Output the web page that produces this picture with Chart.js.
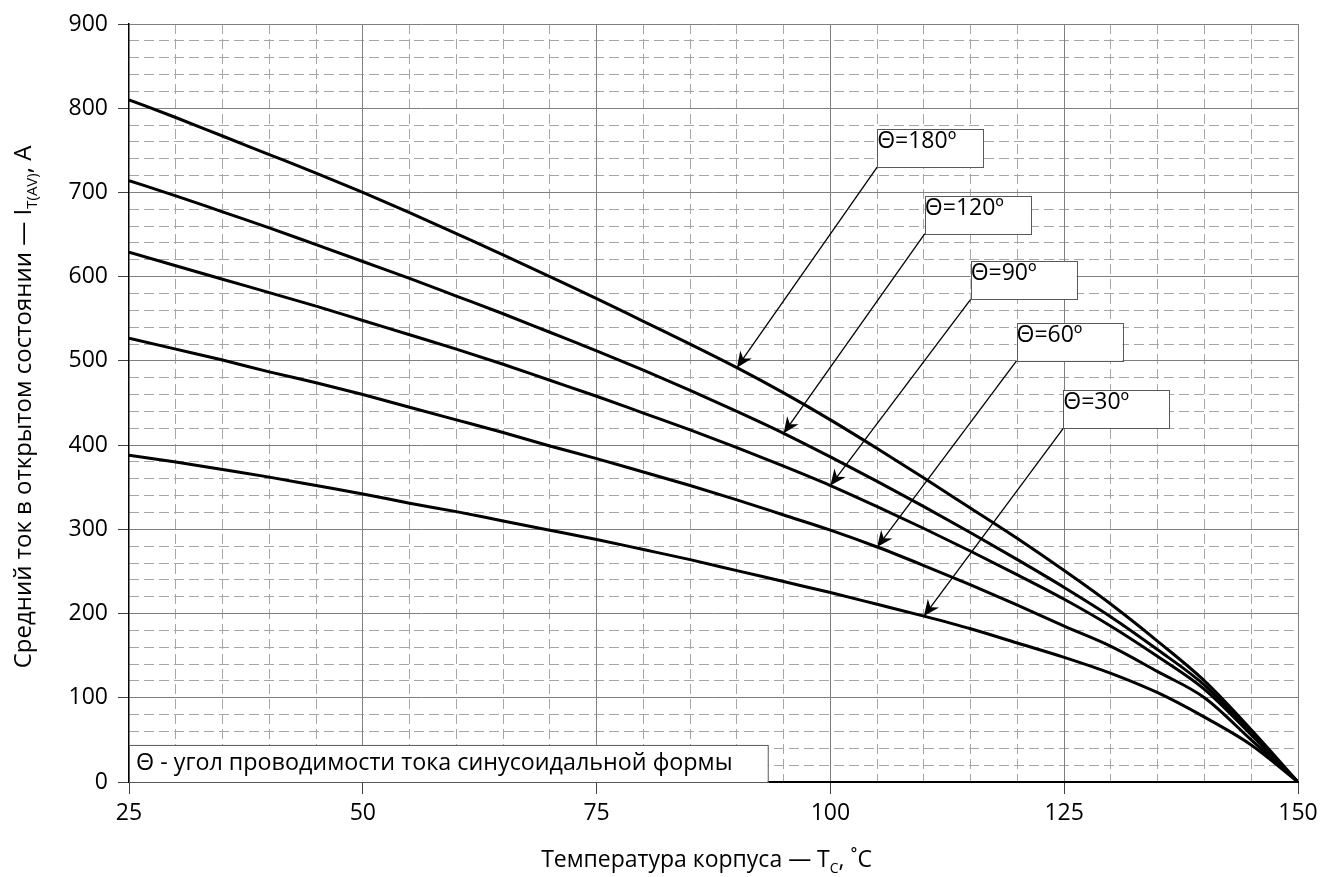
<!DOCTYPE html>
<html>
<head>
<meta charset="utf-8">
<script src="https://cdn.jsdelivr.net/npm/chart.js@4.4.1/dist/chart.umd.min.js"></script>
<style>
html, body { margin: 0; padding: 0; background: #fff; }
#wrap { width: 1333px; height: 877px; }
</style>
</head>
<body>
<div id="wrap"><canvas id="currentChart" width="1333" height="877"></canvas></div>
<script>
// case temperature, degC
var temps = [25, 30, 35, 40, 45, 50, 55, 60, 65, 70, 75, 80, 85, 90, 95, 100, 105, 110, 115, 120, 125, 130, 135, 140, 145, 150];

// average on-state current, A
var cur180 = [810, 789, 767, 745, 723, 700, 676, 651, 626, 600, 574, 547, 520, 492, 462, 430, 396, 361, 325, 289, 251, 211, 167, 120, 62, 0];
var cur120 = [714, 696, 677, 658, 638, 618, 598, 577, 556, 534, 512, 489, 465, 440, 414, 386, 357, 327, 296, 264, 231, 196, 157, 115, 58, 0];
var cur90  = [629, 613, 597, 581, 565, 548, 531, 514, 496, 477, 458, 438, 418, 397, 375, 352, 327, 301, 274, 246, 217, 185, 149, 110, 56, 0];
var cur60  = [527, 514, 501, 487, 474, 460, 445, 430, 415, 399, 384, 368, 352, 335, 317, 299, 279, 257, 234, 210, 185, 161, 131, 100, 50, 0];
var cur30  = [388, 380, 371, 362, 352, 342, 331, 321, 310, 299, 288, 276, 264, 251, 238, 225, 211, 197, 182, 165, 148, 129, 106, 77, 44, 0];

var seriesNames = ['Θ=180º', 'Θ=120º', 'Θ=90º', 'Θ=60º', 'Θ=30º'];
var seriesData = [cur180, cur120, cur90, cur60, cur30];

var xTicks = [25, 50, 75, 100, 125, 150];
var yTicks = [0, 100, 200, 300, 400, 500, 600, 700, 800, 900];

var noteText = 'Θ - угол проводимости тока синусоидальной формы';

// callout boxes: bottom-left corner in data units, arrow goes to point index on the curve
var calloutX = [105, 110.1, 115, 119.9, 124.9];
var calloutY = [730, 651, 573, 500, 420];
var calloutTip = [13, 14, 15, 16, 17];

var FONT = "'Open Sans', 'DejaVu Sans', sans-serif";

function makePoints(arr) {
	var pts = [];
	for (var i = 0; i < temps.length; i++) {
		pts.push({ x: temps[i], y: arr[i] });
	}
	return pts;
}

var datasets = [];
for (var i = 0; i < seriesData.length; i++) {
	datasets.push({
		label: seriesNames[i],
		data: makePoints(seriesData[i]),
		borderColor: '#000',
		borderWidth: 3,
		pointRadius: 0,
		fill: false,
		cubicInterpolationMode: 'monotone',
		xAxisID: 'x',
		yAxisID: 'y'
	});
}

function drawParts(ctx, parts, size, cx, baseY) {
	var subSize = Math.round(size * 0.62);
	var total = 0;
	parts.forEach(function(p) {
		ctx.font = (p[1] ? subSize : size) + 'px ' + FONT;
		p.w = ctx.measureText(p[0]).width;
		total += p.w;
	});
	var x = cx - total / 2;
	parts.forEach(function(p) {
		ctx.font = (p[1] ? subSize : size) + 'px ' + FONT;
		ctx.fillText(p[0], x, baseY + (p[1] ? 6 : 0));
		x += p.w;
	});
}

function drawArrow(ctx, x1, y1, x2, y2) {
	var ang = Math.atan2(y2 - y1, x2 - x1);
	var len = 16, half = 7;
	ctx.beginPath();
	ctx.moveTo(x1, y1);
	ctx.lineTo(x2 - Math.cos(ang) * 10, y2 - Math.sin(ang) * 10);
	ctx.stroke();
	var bx = x2 - Math.cos(ang) * len, by = y2 - Math.sin(ang) * len;
	var nx = -Math.sin(ang), ny = Math.cos(ang);
	ctx.beginPath();
	ctx.moveTo(x2, y2);
	ctx.lineTo(bx + nx * half, by + ny * half);
	ctx.lineTo(x2 - Math.cos(ang) * 11, y2 - Math.sin(ang) * 11);
	ctx.lineTo(bx - nx * half, by - ny * half);
	ctx.closePath();
	ctx.fill();
}

var notesPlugin = {
	id: 'notes',
	afterDatasetsDraw: function(chart) {
		var ctx = chart.ctx;
		var xs = chart.scales.x, ys = chart.scales.y;
		ctx.save();

		// note box at bottom-left
		var nl = xs.getPixelForValue(25), nr = xs.getPixelForValue(93.3);
		var nt = ys.getPixelForValue(44), nb = ys.getPixelForValue(0);
		ctx.fillStyle = '#fff';
		ctx.fillRect(nl, nt, nr - nl, nb - nt);
		ctx.strokeStyle = '#595959';
		ctx.lineWidth = 1;
		ctx.strokeRect(nl + 0.5, nt + 0.5, nr - nl, nb - nt);
		ctx.fillStyle = '#000';
		ctx.font = '23.3px ' + FONT;
		ctx.textBaseline = 'alphabetic';
		ctx.fillText(noteText, nl + 7, nt + 25);

		// callouts
		for (var i = 0; i < seriesNames.length; i++) {
			var bl = xs.getPixelForValue(calloutX[i]);
			var bb = ys.getPixelForValue(calloutY[i]);
			var w = 106, h = 38;
			var pt = chart.getDatasetMeta(i).data[calloutTip[i]];
			ctx.strokeStyle = '#000';
			ctx.fillStyle = '#000';
			ctx.lineWidth = 1.3;
			drawArrow(ctx, bl, bb, pt.x, pt.y);
			ctx.fillStyle = '#fff';
			ctx.fillRect(bl, bb - h, w, h);
			ctx.strokeStyle = '#595959';
			ctx.lineWidth = 1;
			ctx.strokeRect(Math.round(bl) + 0.5, Math.round(bb - h) + 0.5, w, h);
			ctx.fillStyle = '#000';
			ctx.font = '23px ' + FONT;
			ctx.fillText(seriesNames[i], bl, bb - h + 19);
		}
		ctx.restore();
	},
	afterDraw: function(chart) {
		var ctx = chart.ctx;
		var area = chart.chartArea;
		ctx.save();
		ctx.fillStyle = '#000';
		ctx.textBaseline = 'alphabetic';
		drawParts(ctx, [['Температура корпуса — T', false], ['C', true], [', ˚C', false]], 23, (area.left + area.right) / 2 - 7, 867);
		ctx.translate(31, (area.top + area.bottom) / 2 + 4);
		ctx.rotate(-Math.PI / 2);
		drawParts(ctx, [['Средний ток в открытом состоянии — I', false], ['T(AV)', true], [', A', false]], 24, 0, 0);
		ctx.restore();
	}
};

var ctx = document.getElementById('currentChart');
var currentChart = new Chart(ctx, {
	type: 'line',
	data: { datasets: datasets },
	options: {
		responsive: false,
		animation: false,
		devicePixelRatio: 1,
		layout: { padding: { top: 24, right: 35, bottom: 0, left: 0 } },
		plugins: {
			legend: { display: false },
			tooltip: { enabled: false }
		},
		scales: {
			xMinor: {
				type: 'linear', position: 'bottom', min: 25, max: 150,
				ticks: { display: false, stepSize: 5, autoSkip: false },
				grid: {
					drawTicks: false,
					color: function(c) { return (c.tick && c.tick.value % 25 === 0) ? 'rgba(0,0,0,0)' : '#a6a6a6'; }
				},
				border: { display: false, dash: [10, 5] },
				afterFit: function(s) { s.height = 0; }
			},
			yMinor: {
				type: 'linear', position: 'left', min: 0, max: 900,
				ticks: { display: false, stepSize: 20, autoSkip: false },
				grid: {
					drawTicks: false,
					color: function(c) { return (c.tick && c.tick.value % 100 === 0) ? 'rgba(0,0,0,0)' : '#a6a6a6'; }
				},
				border: { display: false, dash: [10, 5] },
				afterFit: function(s) { s.width = 0; }
			},
			x: {
				type: 'linear', position: 'bottom', min: 25, max: 150,
				afterBuildTicks: function(s) { s.ticks = xTicks.map(function(v) { return { value: v }; }); },
				ticks: { autoSkip: false, maxRotation: 0, padding: 6, color: '#000', font: { family: FONT, size: 23 } },
				grid: {
					tickLength: 12, tickColor: '#404040',
					color: function(c) { return (c.tick && c.tick.value === 25) ? 'rgba(0,0,0,0)' : '#7f7f7f'; }
				},
				border: { color: '#000', width: 2 },
				afterFit: function(s) { s.height = 95; }
			},
			y: {
				type: 'linear', position: 'left', min: 0, max: 900,
				afterBuildTicks: function(s) { s.ticks = yTicks.map(function(v) { return { value: v }; }); },
				ticks: { autoSkip: false, padding: 10, color: '#000', font: { family: FONT, size: 23 } },
				grid: {
					tickLength: 11, tickColor: '#404040',
					color: function(c) { return (c.tick && c.tick.value === 0) ? 'rgba(0,0,0,0)' : '#7f7f7f'; }
				},
				border: { color: '#000', width: 1.5 },
				afterFit: function(s) { s.width = 129; }
			}
		}
	},
	plugins: [notesPlugin]
});
</script>
</body>
</html>
